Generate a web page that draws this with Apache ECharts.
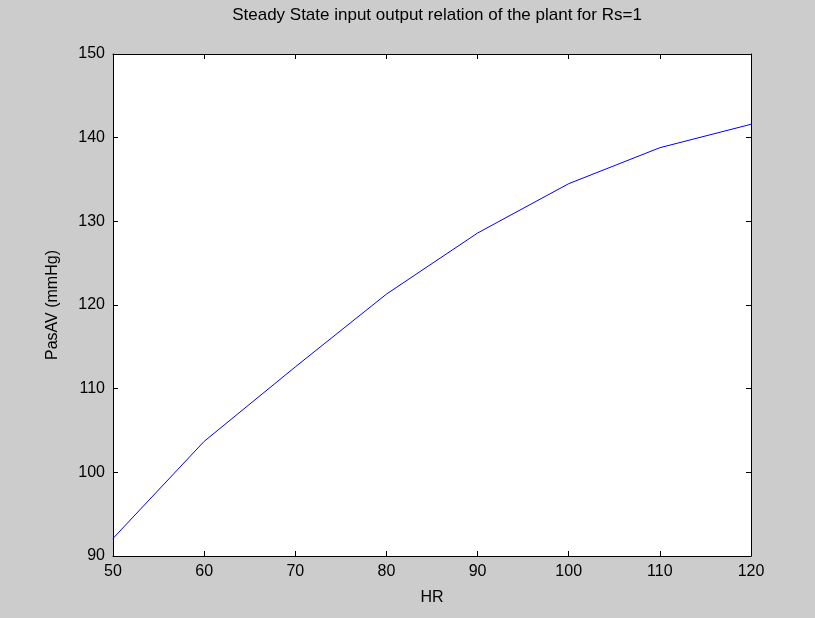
<!DOCTYPE html>
<html>
<head>
<meta charset="utf-8">
<script src="https://cdn.jsdelivr.net/npm/echarts@6/dist/echarts.min.js"></script>
<style>
  html, body { margin: 0; padding: 0; background: #cccccc; }
  #chart { width: 815px; height: 618px; }
</style>
</head>
<body>
<div id="chart"></div>
<script>
// heart rate values (x) and the steady state pressure (y)
var hr = [50, 60, 70, 80, 90, 100, 110, 120];
var pasav = [92.1, 103.7, 112.6, 121.3, 128.6, 134.5, 138.8, 141.6];

var titleText = 'Steady State input output relation of the plant for Rs=1';
var xLabel = 'HR';
var yLabel = 'PasAV (mmHg)';

var font = 'Liberation Sans, Arial, sans-serif';

var points = hr.map(function (x, i) { return [x, pasav[i]]; });

var myChart = echarts.init(document.getElementById('chart'));

function axisBase(show) {
    return {
        type: 'value',
        axisLine: { show: true, onZero: false, lineStyle: { color: '#000', width: 1 } },
        axisTick: { show: true, inside: true, length: 5, lineStyle: { color: '#000' } },
        splitLine: { show: false },
        axisLabel: {
            show: show, color: '#000', fontFamily: font, fontSize: 16
        }
    };
}

var xb = Object.assign(axisBase(true), {
    position: 'bottom', min: 50, max: 120, interval: 10,
    name: xLabel, nameLocation: 'middle', nameGap: 34,
    nameTextStyle: { color: '#000', fontFamily: font, fontSize: 16 }
});
xb.axisLabel.margin = 8;
var xt = Object.assign(axisBase(false), { position: 'top', min: 50, max: 120, interval: 10 });

var yl = Object.assign(axisBase(true), {
    position: 'left', min: 90, max: 150, interval: 10,
    name: yLabel, nameLocation: 'middle', nameGap: 52,
    nameTextStyle: { color: '#000', fontFamily: font, fontSize: 16 }
});
yl.axisLabel.margin = 8;
var yr = Object.assign(axisBase(false), { position: 'right', min: 90, max: 150, interval: 10 });

var option = {
    backgroundColor: '#cccccc',
    animation: false,
    title: {
        text: titleText,
        left: 432, top: 2, textAlign: 'center',
        textStyle: { color: '#000', fontFamily: font, fontSize: 17, fontWeight: 'normal' }
    },
    grid: {
        left: 113, top: 54, width: 638, height: 502,
        show: true, backgroundColor: '#ffffff', borderWidth: 0
    },
    xAxis: [xb, xt],
    yAxis: [yl, yr],
    series: [{
        type: 'line',
        data: points,
        showSymbol: false,
        smooth: false,
        lineStyle: { color: '#0000ff', width: 1 }
    }]
};

myChart.setOption(option);
</script>
</body>
</html>
